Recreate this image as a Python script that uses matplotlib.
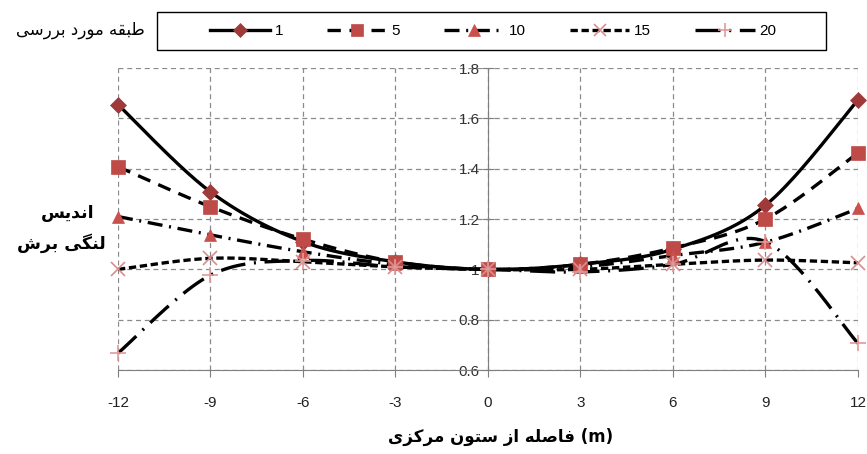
"""
Shear lag index vs distance from central column, one curve per storey.
"""

import numpy as np
import matplotlib

matplotlib.use("Agg")
import matplotlib.pyplot as plt
from matplotlib.lines import Line2D
from matplotlib.patches import Rectangle

# distance from central column (m)
distance = [-12, -9, -6, -3, 0, 3, 6, 9, 12]

# shear lag index per storey
floor_1 = [1.655, 1.308, 1.11, 1.03, 1.0, 1.02, 1.08, 1.255, 1.673]
floor_5 = [1.408, 1.249, 1.12, 1.03, 1.0, 1.02, 1.085, 1.2, 1.463]
floor_10 = [1.21, 1.137, 1.07, 1.02, 1.0, 1.01, 1.055, 1.108, 1.242]
floor_15 = [1.0, 1.044, 1.03, 1.01, 1.0, 1.0, 1.02, 1.037, 1.026]
floor_20 = [0.667, 0.977, 1.035, 1.01, 1.0, 0.99, 1.02, 1.11, 0.706]

floor_labels = ["1", "5", "10", "15", "20"]
x_ticks = [-12, -9, -6, -3, 0, 3, 6, 9, 12]
y_ticks = [0.6, 0.8, 1, 1.2, 1.4, 1.6, 1.8]
y_tick_labels = ["0.6", "0.8", "1", "1.2", "1.4", "1.6", "1.8"]

legend_title = "طبقه مورد بررسی"
y_title = ["اندیس", "لنگی برش"]
x_title = "فاصله از ستون مرکزی"

plt.rcParams["axes.unicode_minus"] = False

# (isolated, final, initial, medial); right-joining letters have no initial/medial
FORMS = {
    "ا": ("\uFE8D", "\uFE8E", None, None),
    "ب": ("\uFE8F", "\uFE90", "\uFE91", "\uFE92"),
    "ت": ("\uFE95", "\uFE96", "\uFE97", "\uFE98"),
    "د": ("\uFEA9", "\uFEAA", None, None),
    "ر": ("\uFEAD", "\uFEAE", None, None),
    "ز": ("\uFEAF", "\uFEB0", None, None),
    "س": ("\uFEB1", "\uFEB2", "\uFEB3", "\uFEB4"),
    "ش": ("\uFEB5", "\uFEB6", "\uFEB7", "\uFEB8"),
    "ص": ("\uFEB9", "\uFEBA", "\uFEBB", "\uFEBC"),
    "ط": ("\uFEC1", "\uFEC2", "\uFEC3", "\uFEC4"),
    "ف": ("\uFED1", "\uFED2", "\uFED3", "\uFED4"),
    "ق": ("\uFED5", "\uFED6", "\uFED7", "\uFED8"),
    "ل": ("\uFEDD", "\uFEDE", "\uFEDF", "\uFEE0"),
    "م": ("\uFEE1", "\uFEE2", "\uFEE3", "\uFEE4"),
    "ن": ("\uFEE5", "\uFEE6", "\uFEE7", "\uFEE8"),
    "ه": ("\uFEE9", "\uFEEA", "\uFEEB", "\uFEEC"),
    "و": ("\uFEED", "\uFEEE", None, None),
    "ی": ("\uFBFC", "\uFBFD", "\uFBFE", "\uFBFF"),
    "ک": ("\uFB8E", "\uFB8F", "\uFB90", "\uFB91"),
    "گ": ("\uFB92", "\uFB93", "\uFB94", "\uFB95"),
}


def persian(text):
    """
    Shape Persian letters and return them in visual (left to right) order.
    """

    out = []
    for i, ch in enumerate(text):
        if ch not in FORMS:
            out.append(ch)
            continue
        prev = text[i - 1] if i > 0 else " "
        nxt = text[i + 1] if i + 1 < len(text) else " "
        joins_prev = prev in FORMS and FORMS[prev][2] is not None
        joins_next = nxt in FORMS and FORMS[ch][2] is not None
        iso, fin, ini, med = FORMS[ch]
        if joins_prev and joins_next:
            out.append(med)
        elif joins_prev:
            out.append(fin)
        elif joins_next:
            out.append(ini)
        else:
            out.append(iso)
    return "".join(reversed(out))


def smooth(xs, ys, n=40):
    """
    Bezier smoothing through the points, like a spreadsheet smoothed line.
    """

    pts = np.column_stack([xs, ys]).astype(float)
    out = [pts[0]]
    t = np.linspace(0, 1, n)[1:, None]
    for i in range(len(pts) - 1):
        p0 = pts[max(i - 1, 0)]
        p1 = pts[i]
        p2 = pts[i + 1]
        p3 = pts[min(i + 2, len(pts) - 1)]
        c1 = p1 + (p2 - p0) / 6
        c2 = p2 - (p3 - p1) / 6
        seg = (1 - t) ** 3 * p1 + 3 * (1 - t) ** 2 * t * c1 + 3 * (1 - t) * t ** 2 * c2 + t ** 3 * p2
        out.extend(seg)
    out = np.array(out)
    return out[:, 0], out[:, 1]


series = [floor_1, floor_5, floor_10, floor_15, floor_20]
dashes = [None, (4, 2.6), (4.5, 2, 0.6, 2), (2.2, 1.1), (7.5, 2.6, 0.6, 2.6)]
markers = ["D", "s", "^", "x", "+"]
marker_sizes = [8, 10, 9, 10, 11]
legend_sizes = [7, 9, 8, 9, 10]
marker_colors = ["#9E3A3A", "#BE4B48", "#C9504D", "#D98E8E", "#E09A9A"]
narrow = ["Liberation Sans Narrow", "Liberation Sans", "DejaVu Sans"]

fig = plt.figure(figsize=(8.67, 4.54), dpi=100)
ax = fig.add_axes([0.1361, 0.185, 0.8535, 0.665])

handles = []
for values, dash, marker, ms, lms, mc in zip(series, dashes, markers, marker_sizes,
                                             legend_sizes, marker_colors):
    sx, sy = smooth(distance, values)
    line, = ax.plot(sx, sy, color="black", lw=2.4, clip_on=False, zorder=3)
    if dash is not None:
        line.set_dashes(dash)
    mew = 1.2 if marker in ("x", "+") else 0.5
    ax.plot(distance, values, linestyle="none", marker=marker, ms=ms, color=mc,
            mec=mc, mew=mew, clip_on=False, zorder=4)
    h = Line2D([], [], color="black", lw=2.4, marker=marker, ms=lms, mfc=mc, mec=mc, mew=mew)
    if dash is not None:
        h.set_dashes(dash)
    handles.append(h)

ax.set_xlim(-12, 12)
ax.set_ylim(0.6, 1.8)
ax.set_xticks(x_ticks)
ax.set_yticks(y_ticks)
ax.set_yticklabels(y_tick_labels)
ax.grid(True, color="#8a8a8a", linestyle=(0, (4, 3)), lw=0.9)
ax.set_axisbelow(True)

ax.spines["top"].set_visible(False)
ax.spines["right"].set_visible(False)
ax.spines["left"].set_position(("data", 0))
ax.spines["left"].set_color("#7f7f7f")
ax.spines["bottom"].set_color("#7f7f7f")
ax.tick_params(axis="x", direction="out", length=5, color="#7f7f7f", pad=14,
               labelsize=11, labelcolor="#222222")
ax.tick_params(axis="y", direction="inout", length=8, color="#7f7f7f", pad=2,
               labelsize=11, labelcolor="#333333")
for lab in ax.get_xticklabels() + ax.get_yticklabels():
    lab.set_family(narrow)

# legend box drawn separately so its size matches the original frame
fig.patches.append(Rectangle((0.181, 0.890), 0.772, 0.084, transform=fig.transFigure,
                             fill=False, edgecolor="black", lw=1.0))
fig.legend(handles, floor_labels, loc="center", ncol=5, bbox_to_anchor=(0.569, 0.932),
           frameon=False, handlelength=3.9, handletextpad=0.3, columnspacing=2.9,
           numpoints=1, prop={"family": narrow, "size": 11})

fig.text(0.093, 0.934, persian(legend_title), ha="center", va="center",
         fontsize=12, family="DejaVu Sans")
fig.text(0.078, 0.531, persian(y_title[0]), ha="center", va="center",
         fontsize=12.5, fontweight="bold", family="DejaVu Sans")
fig.text(0.071, 0.465, persian(y_title[1]), ha="center", va="center",
         fontsize=12.5, fontweight="bold", family="DejaVu Sans")
fig.text(0.577, 0.037, persian(x_title) + " (m)", ha="center", va="center",
         fontsize=12, fontweight="bold", family="DejaVu Sans")

fig.savefig("out.png", dpi=100)
